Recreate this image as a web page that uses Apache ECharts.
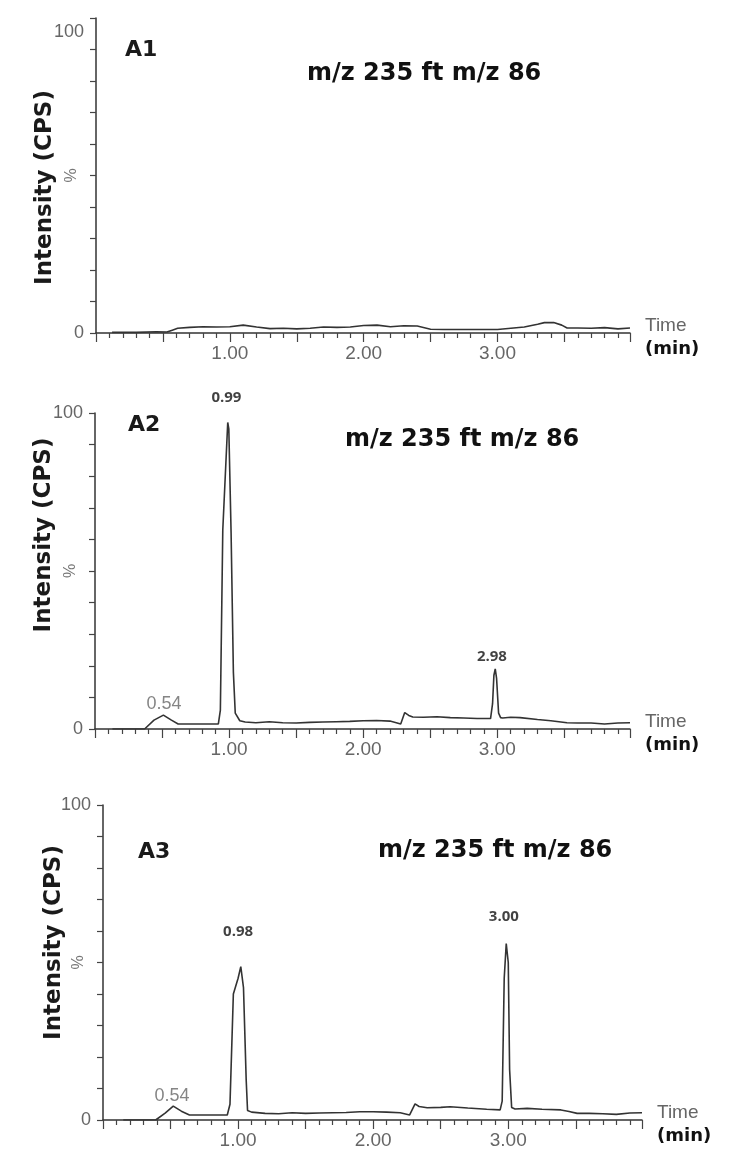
<!DOCTYPE html>
<html><head><meta charset="utf-8">
<script src="https://cdn.jsdelivr.net/npm/echarts@6/dist/echarts.min.js"></script>
<style>html,body{margin:0;padding:0;background:#fff}#c{width:735px;height:1155px}</style>
</head><body><div id="c"></div>
<script>
// ---------- data ----------
const panelNames = ['A1', 'A2', 'A3'];
const transitionLabel = 'm/z 235 ft m/z 86';
const yAxisTitle = 'Intensity (CPS)';
const xTickLabels = ['1.00', '2.00', '3.00'];
const yTickLabels = { 0: '0', 50: '%', 100: '100' };

const timeA1 = [0.12, 0.30, 0.45, 0.53, 0.57, 0.61, 0.70, 0.80, 0.90, 1.00, 1.10, 1.20, 1.30, 1.40, 1.50, 1.60, 1.70, 1.80, 1.90, 2.00, 2.10, 2.20, 2.30, 2.40, 2.50, 2.60, 2.80, 3.00, 3.10, 3.20, 3.30, 3.35, 3.42, 3.48, 3.52, 3.60, 3.70, 3.80, 3.90, 3.99];
const intA1  = [0.2, 0.2, 0.4, 0.3, 0.9, 1.5, 1.8, 2.0, 1.9, 2.0, 2.5, 1.9, 1.4, 1.5, 1.3, 1.5, 1.9, 1.8, 1.9, 2.4, 2.5, 2.0, 2.3, 2.2, 1.2, 1.1, 1.1, 1.1, 1.5, 1.9, 2.8, 3.3, 3.3, 2.5, 1.6, 1.6, 1.5, 1.7, 1.3, 1.6];

const timeA2 = [0.13, 0.37, 0.44, 0.51, 0.57, 0.62, 0.75, 0.92, 0.935, 0.953, 0.978, 0.99, 0.998, 1.015, 1.032, 1.046, 1.08, 1.12, 1.20, 1.30, 1.40, 1.50, 1.60, 1.70, 1.80, 1.90, 2.00, 2.10, 2.20, 2.28, 2.31, 2.34, 2.37, 2.45, 2.55, 2.65, 2.75, 2.85, 2.95, 2.965, 2.975, 2.985, 2.995, 3.01, 3.025, 3.04, 3.10, 3.17, 3.30, 3.40, 3.52, 3.60, 3.70, 3.80, 3.90, 3.99];
const intA2  = [0, 0, 2.8, 4.4, 2.8, 1.6, 1.6, 1.6, 6, 63, 86, 97, 95, 62, 18, 5, 2.6, 2.2, 2.0, 2.3, 2.0, 1.9, 2.1, 2.2, 2.3, 2.4, 2.6, 2.7, 2.5, 1.6, 5.2, 4.3, 3.8, 3.7, 3.9, 3.6, 3.5, 3.3, 3.3, 8, 17, 19, 16, 5, 3.6, 3.5, 3.7, 3.6, 3.0, 2.6, 2.0, 1.9, 1.9, 1.6, 1.9, 2.0];

const timeA3 = [0.15, 0.39, 0.46, 0.52, 0.58, 0.64, 0.80, 0.92, 0.94, 0.965, 1.00, 1.02, 1.04, 1.06, 1.07, 1.10, 1.20, 1.30, 1.40, 1.50, 1.60, 1.70, 1.80, 1.90, 2.00, 2.10, 2.20, 2.27, 2.31, 2.34, 2.40, 2.50, 2.57, 2.70, 2.84, 2.94, 2.955, 2.97, 2.985, 3.00, 3.01, 3.025, 3.05, 3.14, 3.25, 3.39, 3.45, 3.51, 3.60, 3.70, 3.80, 3.90, 3.99];
const intA3  = [0, 0, 2.2, 4.4, 2.8, 1.6, 1.6, 1.6, 5, 40, 45, 48.7, 42, 12.7, 3, 2.5, 2.1, 2.0, 2.3, 2.1, 2.2, 2.3, 2.4, 2.6, 2.6, 2.5, 2.3, 1.6, 5.1, 4.3, 3.9, 4.0, 4.2, 3.8, 3.4, 3.2, 6, 45, 56, 50, 16, 4, 3.5, 3.7, 3.4, 3.2, 2.7, 2.1, 2.1, 2.0, 1.8, 2.2, 2.3];

// peak annotations: label time, apex intensity, text
const peakTimeA2 = [0.515, 0.98, 2.96];
const peakIntA2  = [4.4, 97, 19];
const peakTextA2 = ['0.54', '0.99', '2.98'];
const peakTimeA3 = [0.51, 1.00, 2.967];
const peakIntA3  = [4.4, 48.7, 56];
const peakTextA3 = ['0.54', '0.98', '3.00'];

// ---------- layout / style ----------
const grids = [
  { left: 96, top: 18, width: 534, height: 315 },
  { left: 95, top: 413, width: 535, height: 316 },
  { left: 103, top: 805, width: 539, height: 315 }
];
const panelTitlePos = [[125, 39], [128, 414], [138, 841]];
const mzTitlePos = [[307, 62], [345, 428], [378, 839]];
const yNamePadding = [[0, 24, 0, 0], [0, 0, 0, 72], [0, 0, 0, 40]];
const yNameGap = [39, 39, 37];
const labelDist = [[], [2, 17, 5], [1, 27, 19]];

const panels = [
  { t: timeA1, v: intA1, pt: [], pv: [], px: [] },
  { t: timeA2, v: intA2, pt: peakTimeA2, pv: peakIntA2, px: peakTextA2 },
  { t: timeA3, v: intA3, pt: peakTimeA3, pv: peakIntA3, px: peakTextA3 }
];

const axisColor = '#333';
const tickFont = { color: '#666', fontSize: 18, fontFamily: 'Liberation Sans' };

const option = {
  backgroundColor: '#fff',
  animation: false,
  title: [],
  grid: grids,
  xAxis: [],
  yAxis: [],
  series: []
};

panels.forEach((p, i) => {
  option.title.push({
    text: panelNames[i], left: panelTitlePos[i][0], top: panelTitlePos[i][1], padding: 0,
    textStyle: { fontFamily: 'DejaVu Sans', fontWeight: 'bold', fontSize: 22, lineHeight: 22, color: '#1a1a1a' }
  });
  option.title.push({
    text: transitionLabel, left: mzTitlePos[i][0], top: mzTitlePos[i][1], padding: 0,
    textStyle: { fontFamily: 'DejaVu Sans', fontWeight: 'bold', fontSize: 24, lineHeight: 24, color: '#111' }
  });

  option.xAxis.push({
    gridIndex: i, type: 'value', min: 0, max: 3.99, interval: 0.5,
    axisLine: { show: true, onZero: false, lineStyle: { color: axisColor, width: 1.5 } },
    axisTick: { show: true, length: 9, lineStyle: { color: '#444', width: 1.2 } },
    minorTick: { show: true, splitNumber: 5, length: 5, lineStyle: { color: '#444', width: 1.2 } },
    splitLine: { show: false }, minorSplitLine: { show: false },
    axisLabel: Object.assign({ margin: 11,
      formatter: v => xTickLabels.includes(v.toFixed(2)) && Number.isInteger(v) ? v.toFixed(2) : '' }, tickFont, { fontSize: 19 }),
    name: '{t|Time}\n{m|(min)}', nameLocation: 'end', nameGap: 15, nameMoveOverlap: false,
    nameTextStyle: {
      padding: [10, 0, 0, 0],
      rich: {
        t: { fontFamily: 'Liberation Sans', fontSize: 19, color: '#666', lineHeight: 22 },
        m: { fontFamily: 'DejaVu Sans', fontWeight: 'bold', fontSize: 18, color: '#111', lineHeight: 24 }
      }
    }
  });

  option.yAxis.push({
    gridIndex: i, type: 'value', min: 0, max: 100, interval: 10, position: 'left',
    axisLine: { show: true, onZero: false, lineStyle: { color: axisColor, width: 1.5 } },
    axisTick: { show: true, length: 6, lineStyle: { color: '#444', width: 1.2 } },
    splitLine: { show: false },
    axisLabel: Object.assign({ margin: 12,
      formatter: v => (v === 0 || v === 100) ? (i === 0 && v === 100 ? '{d|' + yTickLabels[v] + '}' : yTickLabels[v]) : '',
      rich: { d: { padding: [28, 0, 0, 0], color: '#666', fontSize: 18, fontFamily: 'Liberation Sans' } }
    }, tickFont),
    name: yAxisTitle, nameLocation: 'middle', nameGap: yNameGap[i], nameRotate: 90, nameMoveOverlap: false,
    nameTextStyle: { fontFamily: 'DejaVu Sans', fontWeight: 'bold', fontSize: 23, color: '#1a1a1a', padding: yNamePadding[i] }
  });
  // secondary axis carrying only the rotated '%' mark
  option.yAxis.push({
    gridIndex: i, type: 'value', min: 0, max: 100, interval: 10, position: 'left', offset: 0,
    axisLine: { show: false }, axisTick: { show: false }, splitLine: { show: false },
    axisLabel: { rotate: 90, margin: 16, color: '#777', fontSize: 16, fontFamily: 'Liberation Sans',
      formatter: v => v === 50 ? yTickLabels[50] : '' }
  });

  option.series.push({
    type: 'line', xAxisIndex: i, yAxisIndex: i * 2, showSymbol: false, symbol: 'none',
    lineStyle: { color: '#333', width: 1.6 },
    data: p.t.map((t, k) => [t, p.v[k]])
  });

  if (p.pt.length) {
    option.series.push({
      type: 'scatter', xAxisIndex: i, yAxisIndex: i * 2, symbolSize: 0, silent: true,
      data: p.pt.map((t, k) => {
        const minor = p.px[k] === '0.54';
        return {
          value: [t, p.pv[k]],
          label: {
            show: true, position: 'top', distance: labelDist[i][k], formatter: p.px[k],
            fontFamily: minor ? 'Liberation Sans' : 'Open Sans',
            fontWeight: minor ? 'normal' : 'bold',
            fontSize: minor ? 18 : 15,
            color: minor ? '#666' : '#111'
          }
        };
      })
    });
  }
});

const chart = echarts.init(document.getElementById('c'), null, { renderer: 'canvas' });
chart.setOption(option);
</script>
</body></html>
